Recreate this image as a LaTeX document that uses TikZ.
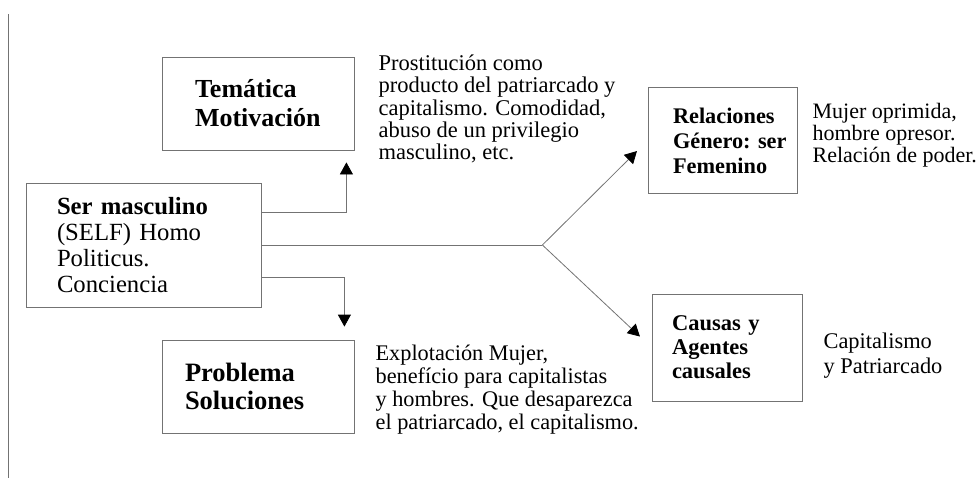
\documentclass[tikz,border=0pt]{standalone}
\usepackage{fontspec}
\setmainfont{Liberation Serif}
\usepackage{tikz}
\usetikzlibrary{arrows.meta,positioning}

\tikzset{
  box/.style={on grid, draw=black!55, line width=0.8pt, align=left, inner ysep=0pt},
  note/.style={inner sep=0pt, align=left, font=\fontsize{22.5pt}{22.4pt}\selectfont},
  line/.style={draw=black!55, line width=0.8pt},
  link/.style={line, -{Triangle[length=12pt,width=13pt,color=black]}}
}

\begin{document}
\begin{tikzpicture}[x=1pt, y=1pt]
            \useasboundingbox (0,0) rectangle (978,-479);
            \draw[line] (8,-14) -- (8,-478);
            \node[box, text width=173pt, inner xsep=31pt, minimum height=124pt,
                  font=\fontsize{24.7pt}{26pt}\selectfont] (ser) at (143.5,-245)
                  {\textbf{Ser masculino}\\(SELF) Homo\\Politicus.\\Conciencia};
            \node[box, above right=141.5pt and 114.5pt of ser, text width=126pt, inner xsep=33pt,
                  minimum height=93pt, font=\fontsize{26pt}{29pt}\selectfont\bfseries] (tema)
                  {Temática\\Motivación};
            \node[box, below right=141.5pt and 114.5pt of ser, text width=146pt, inner xsep=23pt,
                  minimum height=93pt, font=\fontsize{26.5pt}{28.5pt}\selectfont\bfseries] (prob)
                  {Problema\\Soluciones};
            \node[box, above right=104.5pt and 579pt of ser, text width=99pt, inner xsep=25pt,
                  minimum height=106pt, font=\fontsize{22.3pt}{25pt}\selectfont\bfseries] (rel)
                  {Relaciones\\Género:~ser\\Femenino};
            \node[box, below right=102.5pt and 583.5pt of ser, text width=110pt, inner xsep=20pt,
                  minimum height=107pt, font=\fontsize{22.5pt}{24pt}\selectfont\bfseries] (caus)
                  {Causas y\\Agentes\\causales};
            \node[note, right=24pt of tema, yshift=-5.5pt] (tematxt)
                  {Prostitución como\\producto del patriarcado y\\capitalismo. Comodidad,\\abuso de un privilegio\\masculino, etc.};
            \node[note, right=21pt of prob, yshift=-3.5pt, font=\fontsize{22.3pt}{23pt}\selectfont] (probtxt)
                  {Explotación Mujer,\\benefício para capitalistas\\y hombres. Que desaparezca\\el patriarcado, el capitalismo.};
            \node[note, right=15pt of rel, yshift=5.5pt, font=\fontsize{22pt}{22pt}\selectfont] (reltxt)
                  {Mujer oprimida,\\hombre opresor.\\Relación de poder.};
            \node[note, right=21pt of caus, yshift=-8.5pt, font=\fontsize{22.4pt}{25pt}\selectfont] (caustxt)
                  {Capitalismo\\y Patriarcado};
            \coordinate[right=281pt of ser.east] (split);
            \draw[link, shorten >=12pt] ([yshift=33pt]ser.east) -| ([xshift=-8pt]tema.south east);
            \draw[link, shorten >=13pt] ([yshift=-32pt]ser.east) -| ([xshift=-10pt]prob.north east);
            \draw[line] (ser.east) -- (split);
            \draw[link, shorten >=15pt] (split) -- (rel.west);
            \draw[link, shorten >=16pt] (split) -- (caus.west);
        \end{tikzpicture}
\end{document}
